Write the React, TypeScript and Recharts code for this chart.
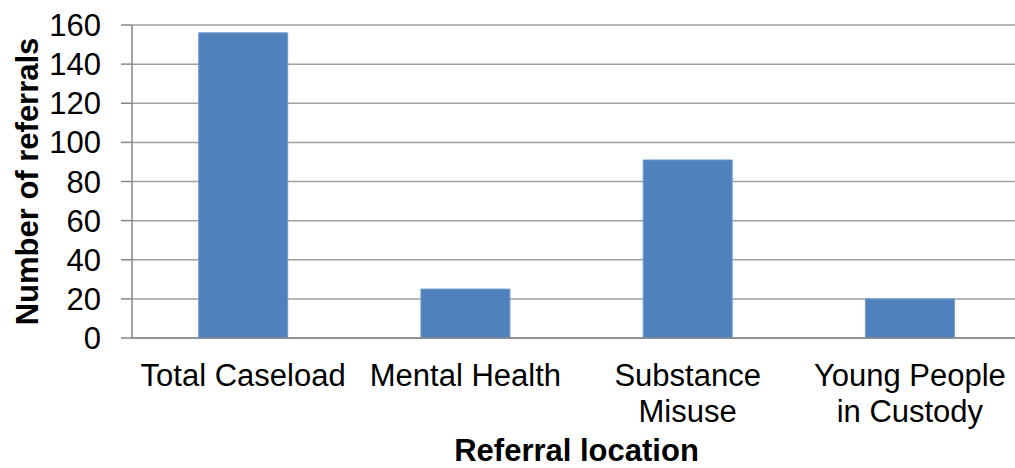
import React from "react";
import { BarChart, Bar, XAxis, YAxis, CartesianGrid, Label } from "recharts";

const categories = ["Total Caseload", "Mental Health", "Substance Misuse", "Young People in Custody"];
const referrals = [156, 25, 91, 20];
const tickLabelLines = [["Total Caseload"], ["Mental Health"], ["Substance", "Misuse"], ["Young People", "in Custody"]];
const yTicks = [0, 20, 40, 60, 80, 100, 120, 140, 160];

const data = categories.map((c, i) => ({ name: c, value: referrals[i] }));

const FONT = "'Liberation Sans', Arial, sans-serif";

const CategoryTick = (props: any) => {
  const { x, y, payload, index, width } = props;
  const band = width / categories.length;
  const lines = tickLabelLines[index] || [payload.value];
  const left = x - band / 2;
  const axisY = y - props.tickMargin - (props.tickSize || 0);
  return (
    <g>
      <line x1={left} x2={left} y1={axisY} y2={axisY + 9} stroke="#868686" strokeWidth={1.5} />
      <line x1={left + band} x2={left + band} y1={axisY} y2={axisY + 9} stroke="#868686" strokeWidth={1.5} />
      <text x={x} y={y} textAnchor="middle" fontFamily={FONT} fontSize={31} fill="#000">
        {lines.map((l: string, i: number) => (
          <tspan key={i} x={x} dy={i === 0 ? 0 : 36}>
            {l}
          </tspan>
        ))}
      </text>
    </g>
  );
};

export default function App() {
  return (
    <div style={{ position: "absolute", left: 0, top: 0, width: 1015, height: 468, overflow: "hidden", background: "#fff" }}>
      <BarChart
        width={1040}
        height={480}
        data={data}
        margin={{ top: 25, right: 19, left: 0, bottom: 0 }}
        barCategoryGap="30%"
      >
        <CartesianGrid vertical={false} stroke="#a0a0a0" strokeWidth={1.5} />
        <XAxis
          dataKey="name"
          height={142}
          tickLine={false}
          axisLine={{ stroke: "#868686", strokeWidth: 1.5 }}
          tickMargin={48}
          tickSize={0}
          interval={0}
          tick={<CategoryTick />}
        >
          <Label
            content={(p: any) => {
              const vb = p.viewBox;
              return (
                <text
                  x={vb.x + vb.width / 2}
                  y={461}
                  textAnchor="middle"
                  fontFamily={FONT}
                  fontSize={31}
                  fontWeight="bold"
                  fill="#000"
                >
                  Referral location
                </text>
              );
            }}
          />
        </XAxis>
        <YAxis
          width={132}
          domain={[0, 160]}
          ticks={yTicks}
          interval={0}
          tickSize={11}
          tickMargin={20}
          tickLine={{ stroke: "#868686", strokeWidth: 1.5 }}
          axisLine={{ stroke: "#868686", strokeWidth: 1.5 }}
          tick={{ fontFamily: FONT, fontSize: 31, fill: "#000" }}
        >
          <Label
            content={(p: any) => {
              const vb = p.viewBox;
              const cy = vb.y + vb.height / 2;
              return (
                <text
                  x={27}
                  y={cy}
                  transform={`rotate(-90, 27, ${cy})`}
                  textAnchor="middle"
                  dominantBaseline="central"
                  fontFamily={FONT}
                  fontSize={31}
                  fontWeight="bold"
                  fill="#000"
                >
                  Number of referrals
                </text>
              );
            }}
          />
        </YAxis>
        <Bar dataKey="value" fill="#4F81BD" stroke="#6f9bd1" strokeWidth={1} isAnimationActive={false} />
      </BarChart>
    </div>
  );
}
